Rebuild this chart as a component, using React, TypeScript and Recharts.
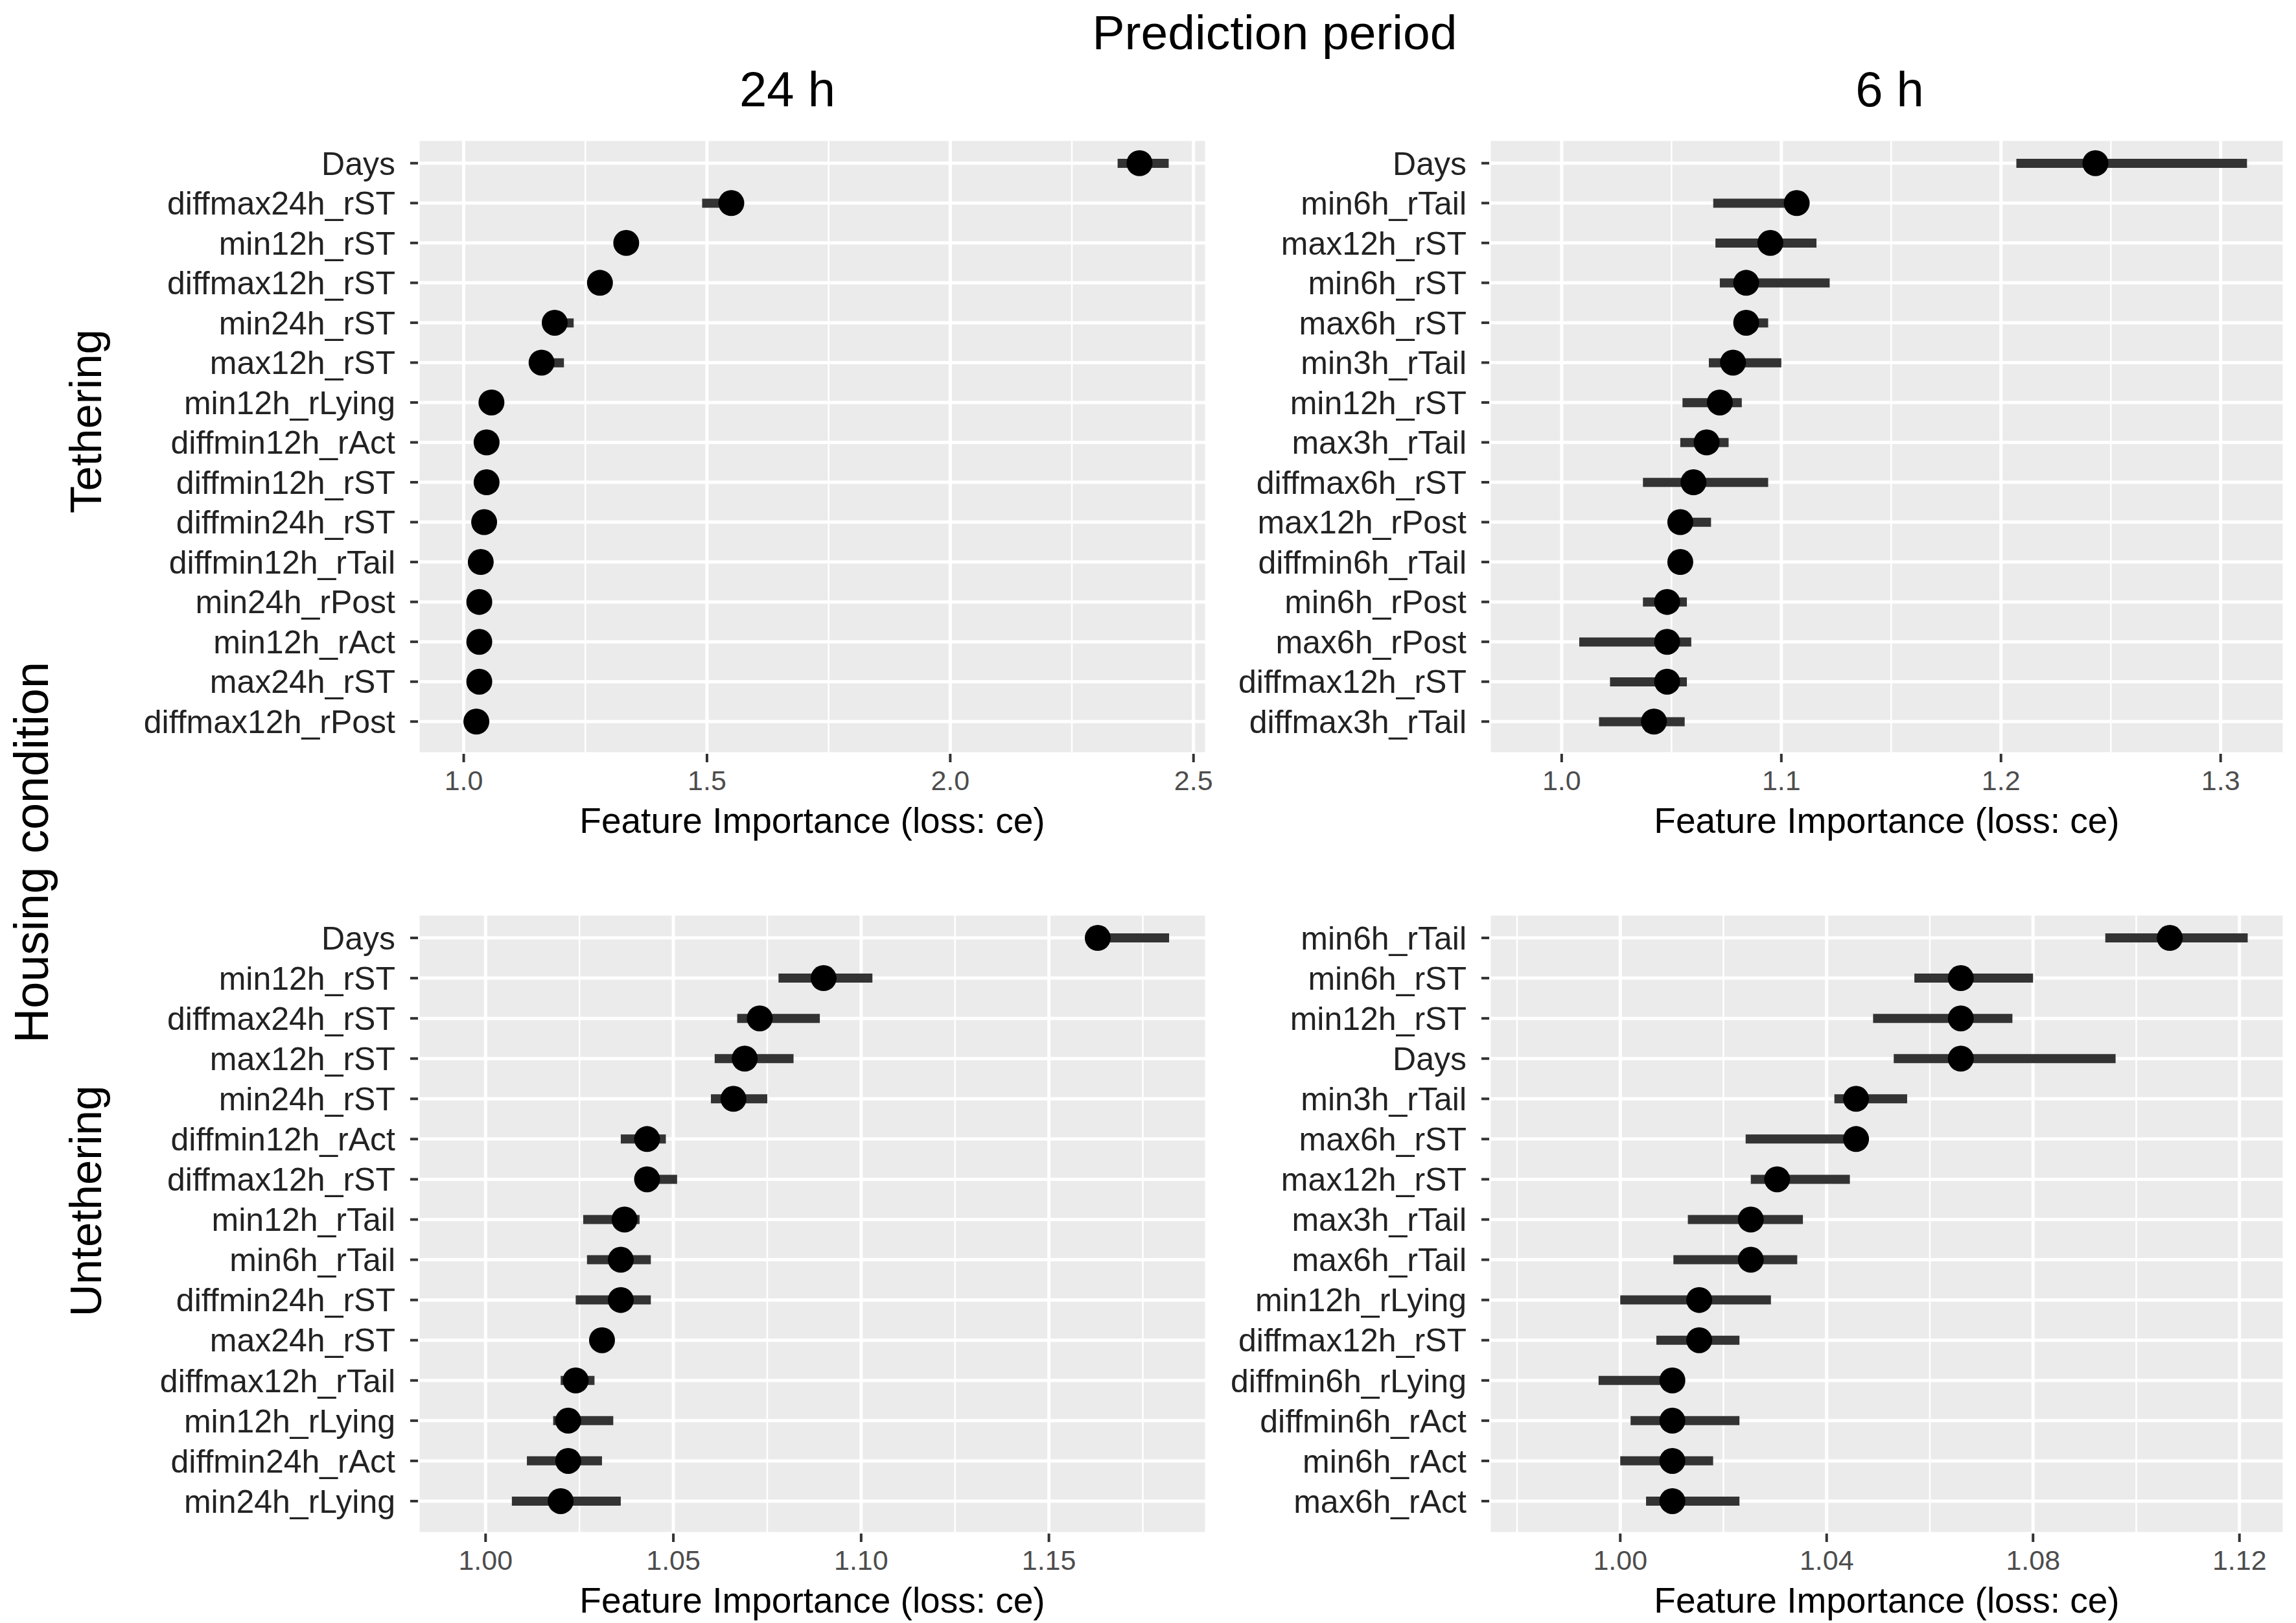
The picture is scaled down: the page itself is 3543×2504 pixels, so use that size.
import React from 'react';
import {
  ComposedChart,
  Bar,
  Line,
  XAxis,
  YAxis,
  CartesianGrid,
} from 'recharts';

// Tethering, 24 h
const tether24Names = [
  'Days', 'diffmax24h_rST', 'min12h_rST', 'diffmax12h_rST', 'min24h_rST',
  'max12h_rST', 'min12h_rLying', 'diffmin12h_rAct', 'diffmin12h_rST', 'diffmin24h_rST',
  'diffmin12h_rTail', 'min24h_rPost', 'min12h_rAct', 'max24h_rST', 'diffmax12h_rPost',
];
const tether24Imp = [2.389, 1.55, 1.334, 1.28, 1.187, 1.16, 1.057, 1.047, 1.047, 1.042, 1.035, 1.032, 1.032, 1.032, 1.026];
const tether24Lo = [2.344, 1.49, 1.32, 1.268, 1.17, 1.15, 1.045, 1.04, 1.04, 1.035, 1.028, 1.025, 1.025, 1.025, 1.02];
const tether24Hi = [2.449, 1.565, 1.345, 1.29, 1.226, 1.206, 1.065, 1.055, 1.055, 1.05, 1.042, 1.04, 1.04, 1.04, 1.033];

// Tethering, 6 h
const tether6Names = [
  'Days', 'min6h_rTail', 'max12h_rST', 'min6h_rST', 'max6h_rST',
  'min3h_rTail', 'min12h_rST', 'max3h_rTail', 'diffmax6h_rST', 'max12h_rPost',
  'diffmin6h_rTail', 'min6h_rPost', 'max6h_rPost', 'diffmax12h_rST', 'diffmax3h_rTail',
];
const tether6Imp = [1.243, 1.107, 1.095, 1.084, 1.084, 1.078, 1.072, 1.066, 1.06, 1.054, 1.054, 1.048, 1.048, 1.048, 1.042];
const tether6Lo = [1.207, 1.069, 1.07, 1.072, 1.079, 1.067, 1.055, 1.054, 1.037, 1.049, 1.051, 1.037, 1.008, 1.022, 1.017];
const tether6Hi = [1.312, 1.11, 1.116, 1.122, 1.094, 1.1, 1.082, 1.076, 1.094, 1.068, 1.057, 1.057, 1.059, 1.057, 1.056];

// Untethering, 24 h
const untether24Names = [
  'Days', 'min12h_rST', 'diffmax24h_rST', 'max12h_rST', 'min24h_rST',
  'diffmin12h_rAct', 'diffmax12h_rST', 'min12h_rTail', 'min6h_rTail', 'diffmin24h_rST',
  'max24h_rST', 'diffmax12h_rTail', 'min12h_rLying', 'diffmin24h_rAct', 'min24h_rLying',
];
const untether24Imp = [1.163, 1.09, 1.073, 1.069, 1.066, 1.043, 1.043, 1.037, 1.036, 1.036, 1.031, 1.024, 1.022, 1.022, 1.02];
const untether24Lo = [1.16, 1.078, 1.067, 1.061, 1.06, 1.036, 1.04, 1.026, 1.027, 1.024, 1.029, 1.02, 1.018, 1.011, 1.007];
const untether24Hi = [1.182, 1.103, 1.089, 1.082, 1.075, 1.048, 1.051, 1.041, 1.044, 1.044, 1.033, 1.029, 1.034, 1.031, 1.036];

// Untethering, 6 h
const untether6Names = [
  'min6h_rTail', 'min6h_rST', 'min12h_rST', 'Days', 'min3h_rTail',
  'max6h_rST', 'max12h_rST', 'max3h_rTail', 'max6h_rTail', 'min12h_rLying',
  'diffmax12h_rST', 'diffmin6h_rLying', 'diffmin6h_rAct', 'min6h_rAct', 'max6h_rAct',
];
const untether6Imp = [1.1065, 1.066, 1.066, 1.066, 1.0457, 1.0457, 1.0304, 1.0253, 1.0253, 1.0153, 1.0153, 1.0101, 1.0101, 1.0101, 1.0101];
const untether6Lo = [1.094, 1.057, 1.049, 1.053, 1.0415, 1.0243, 1.0253, 1.0131, 1.0103, 1.0, 1.007, 0.9958, 1.002, 1.0, 1.005];
const untether6Hi = [1.1216, 1.08, 1.076, 1.096, 1.0556, 1.047, 1.0445, 1.0354, 1.0343, 1.0292, 1.0231, 1.012, 1.0231, 1.018, 1.0231];

const ticks24Top = [1.0, 1.5, 2.0, 2.5];
const ticks6Top = [1.0, 1.1, 1.2, 1.3];
const ticks24Bottom = [1.0, 1.05, 1.1, 1.15];
const ticks6Bottom = [1.0, 1.04, 1.08, 1.12];

const FONT = '"Liberation Sans", Arial, Helvetica, sans-serif';
const AXIS_TITLE = 'Feature Importance (loss: ce)';

const buildRows = (names: string[], imp: number[], lo: number[], hi: number[]) =>
  names.map((name, i) => ({ name, imp: imp[i], range: [lo[i], hi[i]] }));

// minor gridlines sit halfway between the major ticks (ggplot style)
const midpoints = (ticks: number[], domain: [number, number]) => {
  const step = ticks[1] - ticks[0];
  const out: number[] = [];
  for (let t = ticks[0] - step / 2; t < domain[1]; t += step) {
    if (t > domain[0]) out.push(Number(t.toFixed(4)));
  }
  return out;
};

interface PanelProps {
  rows: { name: string; imp: number; range: number[] }[];
  domain: [number, number];
  ticks: number[];
  digits: number;
  plotLeft: number;
  plotTop: number;
  plotWidth: number;
  plotHeight: number;
}

const Y_AXIS_W = 450;
const M_TOP = 10;
const M_RIGHT = 10;
const M_BOTTOM = 30;
const X_AXIS_H = 122;

const Panel: React.FC<PanelProps> = ({ rows, domain, ticks, digits, plotLeft, plotTop, plotWidth, plotHeight }) => {
  const minor = midpoints(ticks, domain);
  const width = Y_AXIS_W + plotWidth + M_RIGHT;
  const height = M_TOP + plotHeight + X_AXIS_H + M_BOTTOM;
  const minorGen = (props: any) => {
    const s = props?.xAxis?.scale;
    const off = props?.offset;
    return minor.map(m =>
      typeof s === 'function'
        ? s(m)
        : off.left + ((m - domain[0]) / (domain[1] - domain[0])) * off.width
    );
  };
  return (
    <div style={{ position: 'absolute', left: plotLeft - Y_AXIS_W, top: plotTop - M_TOP }}>
      <ComposedChart
        width={width}
        height={height}
        data={rows}
        layout="vertical"
        margin={{ top: M_TOP, right: M_RIGHT, left: 0, bottom: M_BOTTOM }}
      >
        <CartesianGrid fill="#EBEBEB" fillOpacity={1} stroke="#FFFFFF" strokeWidth={5} />
        <CartesianGrid
          horizontal={false}
          stroke="#FFFFFF"
          strokeWidth={2.5}
          verticalCoordinatesGenerator={minorGen}
        />
        <XAxis
          type="number"
          domain={domain}
          ticks={ticks}
          allowDataOverflow
          axisLine={false}
          tickLine={{ stroke: '#333333', strokeWidth: 4 }}
          tickSize={13}
          tickMargin={12}
          tick={{ fontSize: 43, fill: '#4D4D4D', fontFamily: FONT }}
          tickFormatter={(v: number) => v.toFixed(digits)}
          height={X_AXIS_H}
          interval={0}
          label={{
            value: AXIS_TITLE,
            position: 'insideBottom',
            offset: 0,
            fontSize: 55,
            fill: '#000000',
            fontFamily: FONT,
          }}
        />
        <YAxis
          type="category"
          dataKey="name"
          width={Y_AXIS_W}
          axisLine={false}
          tickLine={{ stroke: '#333333', strokeWidth: 4 }}
          tickSize={12}
          tickMargin={23}
          padding={{ top: 6, bottom: 19 }}
          interval={0}
          tick={{ fontSize: 50, fill: '#222222', fontFamily: FONT }}
        />
        <Bar dataKey="range" fill="#333333" barSize={14} isAnimationActive={false} />
        <Line
          dataKey="imp"
          stroke="none"
          dot={{ r: 20, fill: '#000000', stroke: 'none' }}
          activeDot={false}
          isAnimationActive={false}
        />
      </ComposedChart>
    </div>
  );
};

export default function App() {
  return (
    <div
      style={{
        position: 'absolute',
        left: 0,
        top: 0,
        width: 3543,
        height: 2504,
        background: '#FFFFFF',
        fontFamily: FONT,
        overflow: 'hidden',
      }}
    >
      <Panel
        rows={buildRows(tether24Names, tether24Imp, tether24Lo, tether24Hi)}
        domain={[0.906, 2.527]}
        ticks={ticks24Top}
        digits={1}
        plotLeft={645}
        plotTop={215}
        plotWidth={1217}
        plotHeight={948}
      />
      <Panel
        rows={buildRows(tether6Names, tether6Imp, tether6Lo, tether6Hi)}
        domain={[0.967, 1.329]}
        ticks={ticks6Top}
        digits={1}
        plotLeft={2298}
        plotTop={215}
        plotWidth={1227}
        plotHeight={948}
      />
      <Panel
        rows={buildRows(untether24Names, untether24Imp, untether24Lo, untether24Hi)}
        domain={[0.982, 1.192]}
        ticks={ticks24Bottom}
        digits={2}
        plotLeft={645}
        plotTop={1410}
        plotWidth={1217}
        plotHeight={956}
      />
      <Panel
        rows={buildRows(untether6Names, untether6Imp, untether6Lo, untether6Hi)}
        domain={[0.9746, 1.1287]}
        ticks={ticks6Bottom}
        digits={2}
        plotLeft={2298}
        plotTop={1410}
        plotWidth={1227}
        plotHeight={956}
      />
      <svg
        width={3543}
        height={2504}
        style={{ position: 'absolute', left: 0, top: 0, pointerEvents: 'none' }}
      >
        <g fontFamily={FONT} fill="#000000">
          <text x={1967} y={76} fontSize={75} textAnchor="middle">Prediction period</text>
          <text x={1215} y={164} fontSize={76} textAnchor="middle">24 h</text>
          <text x={2916} y={164} fontSize={76} textAnchor="middle">6 h</text>
          <text
            x={48}
            y={1315}
            fontSize={74}
            textAnchor="middle"
            dominantBaseline="central"
            transform="rotate(-90 48 1315)"
          >
            Housing condition
          </text>
          <text
            x={132}
            y={650}
            fontSize={69}
            textAnchor="middle"
            dominantBaseline="central"
            transform="rotate(-90 132 650)"
          >
            Tethering
          </text>
          <text
            x={132}
            y={1853}
            fontSize={69}
            textAnchor="middle"
            dominantBaseline="central"
            transform="rotate(-90 132 1853)"
          >
            Untethering
          </text>
        </g>
      </svg>
    </div>
  );
}
